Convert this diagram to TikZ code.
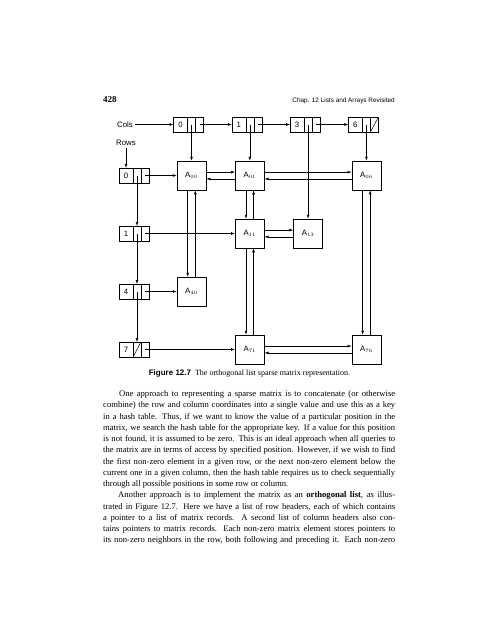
\documentclass[tikz,border=0pt]{standalone}
\usepackage{fontspec}
\setmainfont{Liberation Serif}
\setsansfont{Liberation Sans}
\usetikzlibrary{positioning,arrows.meta}

\tikzset{
  elem/.style={draw, line width=0.5pt, minimum size=29pt, inner sep=0pt, font=\sffamily\fontsize{7.8}{9}\selectfont},
  hval/.style={draw, line width=0.5pt, minimum width=14pt, minimum height=15pt, inner sep=0pt, outer sep=0pt, font=\sffamily\fontsize{7.8}{9}\selectfont},
  hptr/.style={draw, line width=0.5pt, minimum width=8pt, minimum height=15pt, inner sep=0pt, outer sep=0pt},
  nullptr/.style={hptr, path picture={\draw[line width=0.5pt] (path picture bounding box.south west) -- (path picture bounding box.north east);}},
  lbl/.style={font=\sffamily\fontsize{7.8}{9}\selectfont, inner sep=0pt},
  link/.style={->, line width=0.5pt},
}

\begin{document}
\begin{tikzpicture}[x=1pt, y=-1pt, >={Latex[length=4pt,width=2.8pt]}]
  \fill[white] (0,0) rectangle (495,640);
  \useasboundingbox (0,0) rectangle (495,640);

  \node[anchor=base west, inner sep=0pt, font=\bfseries\fontsize{9}{11}\selectfont] (pageno) at (103,102.5) {428};
  \node[anchor=base east, inner sep=0pt, font=\sffamily\fontsize{6.4}{8}\selectfont] (runhead) at (395,102.5) {Chap. 12 Lists and Arrays Revisited};

  \node[lbl] (cols) at (125,124.5) {Cols};
  \node[lbl] (rows) at (126,143) {Rows};

  \node[hval] (c0) at (180.5,124.5) {0};
  \node[hptr, right=0pt of c0] (c0d) {};
  \node[hptr, right=0pt of c0d] (c0n) {};
  \node[hval] (c1) at (238.8,124.5) {1};
  \node[hptr, right=0pt of c1] (c1d) {};
  \node[hptr, right=0pt of c1d] (c1n) {};
  \node[hval] (c3) at (297.1,124.5) {3};
  \node[hptr, right=0pt of c3] (c3d) {};
  \node[hptr, right=0pt of c3d] (c3n) {};
  \node[hval] (c6) at (355.4,124.5) {6};
  \node[hptr, right=0pt of c6] (c6d) {};
  \node[nullptr, right=0pt of c6d] (c6n) {};

  \node[hval] (r0) at (126,175.5) {0};
  \node[hptr, right=0pt of r0] (r0d) {};
  \node[hptr, right=0pt of r0d] (r0n) {};
  \node[hval] (r1) at (126,233.5) {1};
  \node[hptr, right=0pt of r1] (r1d) {};
  \node[hptr, right=0pt of r1d] (r1n) {};
  \node[hval] (r4) at (126,291.5) {4};
  \node[hptr, right=0pt of r4] (r4d) {};
  \node[hptr, right=0pt of r4d] (r4n) {};
  \node[hval] (r7) at (126,349.5) {7};
  \node[nullptr, right=0pt of r7] (r7d) {};
  \node[hptr, right=0pt of r7d] (r7n) {};

  \node[elem] (a00) at (191.5,175.5) {A$_{00}$};
  \node[elem] (a01) at (249.8,175.5) {A$_{01}$};
  \node[elem] (a06) at (366.4,175.5) {A$_{06}$};
  \node[elem] (a11) at (249.8,233.5) {A$_{11}$};
  \node[elem] (a13) at (308.1,233.5) {A$_{13}$};
  \node[elem] (a40) at (191.5,291.5) {A$_{40}$};
  \node[elem] (a71) at (249.8,349.5) {A$_{71}$};
  \node[elem] (a76) at (366.4,349.5) {A$_{76}$};

  \draw[link, shorten <=2pt] (cols.east) -- (c0.west);
  \draw[link] (c0n.center) -- (c1.west);
  \draw[link] (c1n.center) -- (c3.west);
  \draw[link] (c3n.center) -- (c6.west);
  \draw[link] (c0d.center) -- (a00.north);
  \draw[link] (c1d.center) -- (a01.north);
  \draw[link] (c3d.center) -- (a13.north);
  \draw[link] (c6d.center) -- (a06.north);

  \draw[link, shorten <=2pt] (rows.south) -- (r0.north);
  \draw[link] (r0d.center) -- (r1d.north);
  \draw[link] (r1d.center) -- (r4d.north);
  \draw[link] (r4d.center) -- (r7d.north);
  \draw[link] (r0n.center) -- (a00.west);
  \draw[link] (r1n.center) -- (a11.west);
  \draw[link] (r4n.center) -- (a40.west);
  \draw[link] (r7n.center) -- (a71.west);

  \draw[link] ([yshift=3.4pt]a00.east) -- ([yshift=3.4pt]a01.west);
  \draw[link] ([yshift=-3.4pt]a01.west) -- ([yshift=-3.4pt]a00.east);
  \draw[link] ([yshift=3.4pt]a01.east) -- ([yshift=3.4pt]a06.west);
  \draw[link] ([yshift=-3.4pt]a06.west) -- ([yshift=-3.4pt]a01.east);
  \draw[link] ([yshift=3.4pt]a11.east) -- ([yshift=3.4pt]a13.west);
  \draw[link] ([yshift=-3.4pt]a13.west) -- ([yshift=-3.4pt]a11.east);
  \draw[link] ([yshift=3.4pt]a71.east) -- ([yshift=3.4pt]a76.west);
  \draw[link] ([yshift=-3.4pt]a76.west) -- ([yshift=-3.4pt]a71.east);

  \draw[link] ([xshift=-3.8pt]a00.south) -- ([xshift=-3.8pt]a40.north);
  \draw[link] ([xshift=3.8pt]a40.north) -- ([xshift=3.8pt]a00.south);
  \draw[link] ([xshift=-3.8pt]a01.south) -- ([xshift=-3.8pt]a11.north);
  \draw[link] ([xshift=3.8pt]a11.north) -- ([xshift=3.8pt]a01.south);
  \draw[link] ([xshift=-3.8pt]a11.south) -- ([xshift=-3.8pt]a71.north);
  \draw[link] ([xshift=3.8pt]a71.north) -- ([xshift=3.8pt]a11.south);
  \draw[link] ([xshift=-3.8pt]a06.south) -- ([xshift=-3.8pt]a76.north);
  \draw[link] ([xshift=3.8pt]a76.north) -- ([xshift=3.8pt]a06.south);

  \node[anchor=base, inner sep=0pt, font=\fontsize{8}{10}\selectfont] (caption) at (249.5,375.8)
    {\textsf{\bfseries Figure 12.7}\enspace The orthogonal list sparse matrix representation.};

  \node[anchor=base west, inner sep=0pt, text width=292pt, align=justify, font=\fontsize{8.6}{11.25}\selectfont] (body) at (103,396.5)
    {\hyphenpenalty=10000\tolerance=10000
     \hspace*{16pt}One approach to representing a sparse matrix is to concatenate (or otherwise\linebreak
     combine) the row and column coordinates into a single value and use this as a key\linebreak
     in a hash table. Thus, if we want to know the value of a particular position in the\linebreak
     matrix, we search the hash table for the appropriate key. If a value for this position\linebreak
     is not found, it is assumed to be zero. This is an ideal approach when all queries to\linebreak
     the matrix are in terms of access by specified position. However, if we wish to find\linebreak
     the first non-zero element in a given row, or the next non-zero element below the\linebreak
     current one in a given column, then the hash table requires us to check sequentially\linebreak
     through all possible positions in some row or column.\par
     \hspace*{15pt}Another approach is to implement the matrix as an \textbf{orthogonal list}, as illus-\linebreak
     trated in Figure 12.7. Here we have a list of row headers, each of which contains\linebreak
     a pointer to a list of matrix records. A second list of column headers also con-\linebreak
     tains pointers to matrix records. Each non-zero matrix element stores pointers to\linebreak
     its non-zero neighbors in the row, both following and preceding it. Each non-zero\parfillskip=0pt\par};
\end{tikzpicture}
\end{document}
